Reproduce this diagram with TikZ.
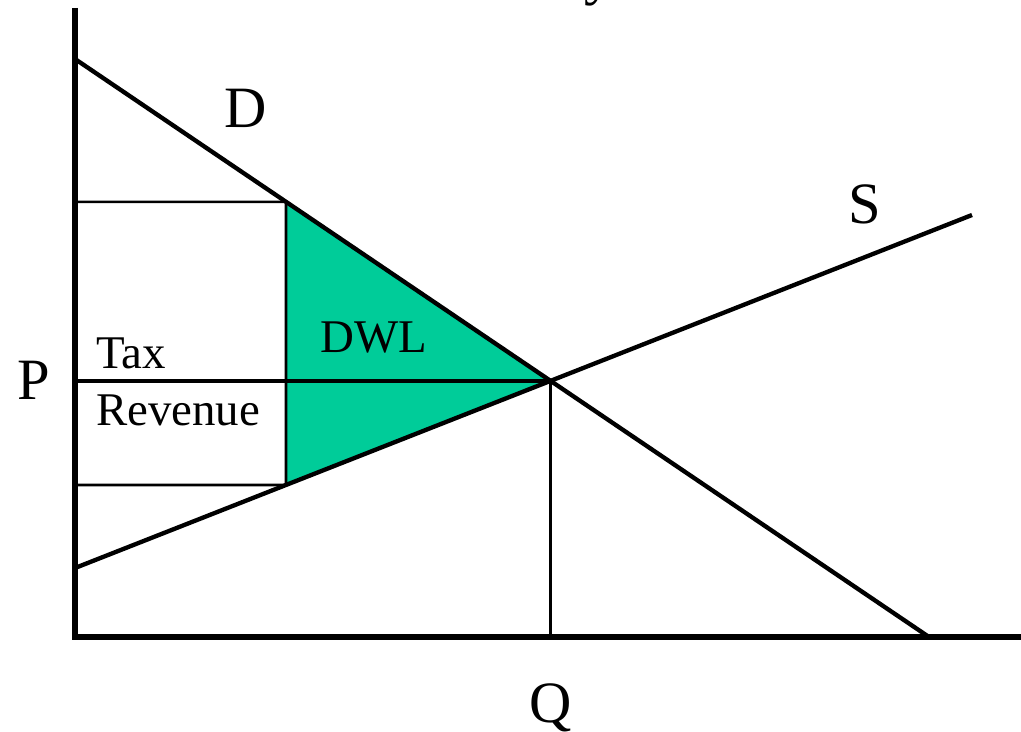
\documentclass[tikz,border=0pt]{standalone}
\usepackage{fontspec}
\setmainfont{Liberation Serif}
\usepackage{tikz}
\usetikzlibrary{positioning,calc}
\definecolor{ink}{HTML}{000000}
\definecolor{dwlgreen}{HTML}{00CC99}
\tikzset{
  axis/.style={draw=ink,line width=5.2pt},
  curve/.style={draw=ink,line width=3.7pt},
  pline/.style={draw=ink,line width=3.2pt},
  guide/.style={draw=ink,line width=2.2pt},
  biglabel/.style={font=\fontsize{50}{60}\selectfont,text=ink,inner sep=0pt,anchor=base west},
  smalllabel/.style={font=\fontsize{40}{48}\selectfont,text=ink,inner sep=0pt,anchor=base west},
}

\begin{document}
\begin{tikzpicture}[x=0.3mm,y=-0.3mm]
  \useasboundingbox (0,0) rectangle (1021,732);
  % axes and curves
  \coordinate (top) at (75,8);
  \coordinate (o) at (75,637);
  \coordinate (right) at (1021,637);
  \coordinate (dstart) at (75,59);
  \coordinate (dend) at (929,637);
  \coordinate (sstart) at (75,568);
  \coordinate (send) at (972,215);
  \coordinate (eq) at (intersection of dstart--dend and sstart--send);
  % tax wedge
  \coordinate (pd) at (intersection of dstart--dend and 286,0--286,700);
  \coordinate (ps) at (intersection of sstart--send and 286,0--286,700);
  \fill[dwlgreen] (pd) -- (ps) -- (eq) -- cycle;
  \draw[guide] (o |- pd) -- (pd) -- (ps) -- (o |- ps);
  \draw[guide] (eq) -- (eq |- o);
  \draw[pline] (o |- eq) -- (eq);
  \draw[curve] (dstart) -- (dend);
  \draw[curve] (sstart) -- (send);
  \draw[axis] (top) -- (o) -- (right);
  % labels
  \node[biglabel] (ttl) at (584,-6) {y};
  \node[biglabel] (dlabel) at (224,128) {D};
  \node[biglabel] (slabel) at (848,224) {S};
  \node[biglabel] (plabel) at (17,400) {P};
  \node[biglabel] (qlabel) at (529,722) {Q};
  \node[smalllabel] (tax) at (96,369) {Tax};
  \node[smalllabel] (rev) at (96,426) {Revenue};
  \node[smalllabel] (dwl) at (320,353) {DWL};
\end{tikzpicture}
\end{document}
